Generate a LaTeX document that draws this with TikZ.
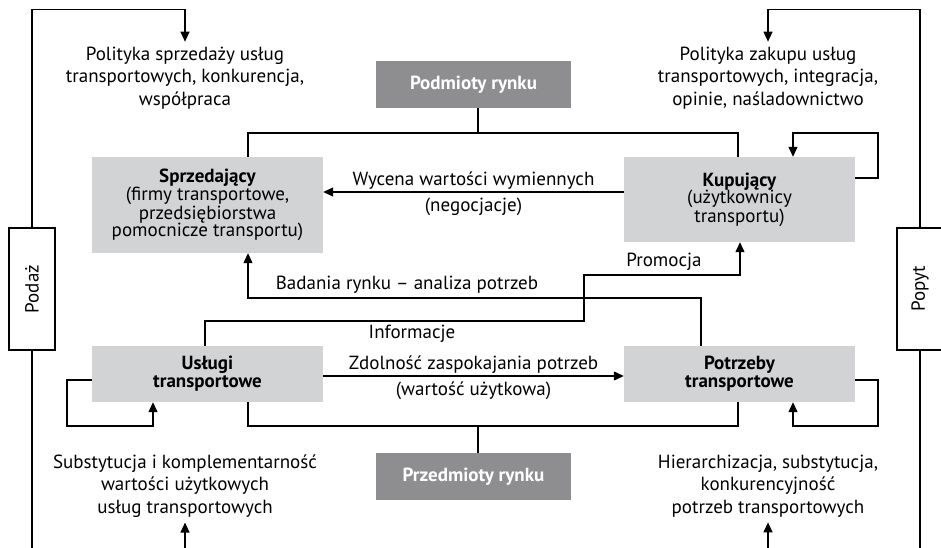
\documentclass[tikz,border=0pt]{standalone}
\usepackage{fontspec}
\usepackage{graphicx}
\setmainfont{PT Sans}
\usetikzlibrary{arrows.meta,positioning,calc}
\definecolor{lgrey}{HTML}{D2D3D5}
\definecolor{dgrey}{HTML}{8E8E90}
\tikzstyle{l1}=[line width=1.2pt]
\tikzstyle{arr}=[l1, -{Triangle[length=10pt,width=9pt]}]
\tikzstyle{light}=[fill=lgrey, minimum width=231pt, inner sep=0pt, align=center, font=\fontsize{19}{17.5}\selectfont]
\tikzstyle{lightb}=[light, font=\fontsize{19}{18}\selectfont\bfseries]
\tikzstyle{dark}=[fill=dgrey, text=white, minimum width=195pt, minimum height=47pt, font=\fontsize{19}{18}\selectfont\bfseries]
\tikzstyle{side}=[draw, l1, fill=white, minimum width=46pt, minimum height=122pt, inner sep=0pt, font=\fontsize{19}{18}\selectfont]
\tikzstyle{txt}=[align=center, inner sep=5pt, font=\fontsize{19}{22.5}\selectfont]
\tikzstyle{lbl}=[inner sep=2pt, font=\fontsize{19}{18}\selectfont]

\begin{document}
\begin{tikzpicture}[x=1pt, y=-1pt]
    \useasboundingbox (0,0) rectangle (941,548);

    % podmioty
    \node (podm) [dark] at (473.5,84.5) {Podmioty rynku};
    \node (sprz) [light, minimum height=96pt] at (207.5,205) {\textbf{Sprzedający}\\(firmy transportowe,\\przedsiębiorstwa\\pomocnicze transportu)};
    \node (kup) [light, minimum height=85pt] at (739.5,199.5) {\textbf{Kupujący}\\(użytkownicy\\transportu)};

    % przedmioty
    \node (prze) [dark] at (473.5,476.5) {Przedmioty rynku};
    \node (usl) [lightb, minimum height=56pt] at (207.5,374) {Usługi\\transportowe};
    \node (pot) [lightb, minimum height=56pt] at (739.5,374) {Potrzeby\\transportowe};

    \node (poda) [side] at (32,289) {\rotatebox{90}{Podaż}};
    \node (popy) [side] at (920,289) {\rotatebox{90}{Popyt}};

    \node (polS) [txt] at (185,78) {Polityka sprzedaży usług\\transportowych, konkurencja,\\współpraca};
    \node (polK) [txt] at (768,78) {Polityka zakupu usług\\transportowych, integracja,\\opinie, naśladownictwo};
    \node (subS) [txt] at (185,486) {Substytucja i komplementarność\\wartości użytkowych\\usług transportowych};
    \node (hier) [txt] at (768,486) {Hierarchizacja, substytucja,\\konkurencyjność\\potrzeb transportowych};

    \coordinate (bl) at (0,548);

    % outer loops
    \draw[arr] (poda.north) -- ++(0,-218) -| (polS.north);
    \draw[l1] (poda.south) -- (poda.south |- bl);
    \draw[arr] (subS.south |- bl) -- (subS.south);
    \draw[arr] (popy.north) -- ++(0,-218) -| (polK.north);
    \draw[l1] (popy.south) -- (popy.south |- bl);
    \draw[arr] (hier.south |- bl) -- (hier.south);

    % joins
    \draw[l1] (podm.south -| 478,0) -- (478,133);
    \draw[l1] (sprz.north -| 248,0) |- (738,133) -- (kup.north -| 738,0);
    \draw[l1] (prze.north -| 478,0) -- (478,426);
    \draw[l1] (usl.south -| 248,0) |- (738,426) -- (pot.south -| 738,0);

    % self loops
    \draw[arr] (kup.east |- 0,178) -| (878,133) -| (kup.north -| 793,0);
    \draw[arr] (usl.west |- 0,380) -| (67,426) -| (usl.south -| 153,0);
    \draw[arr] (pot.east |- 0,380) -| (878,426) -| (pot.south -| 793,0);

    % exchange
    \draw[arr] (kup.west |- 0,192) -- (sprz.east |- 0,192)
        node[lbl, midway, above] (wyc) {Wycena wartości wymiennych}
        node[lbl, midway, below=3pt] (neg) {(negocjacje)};
    \draw[arr] (usl.east |- 0,376) -- (pot.west |- 0,376)
        node[lbl, midway, above] (zdol) {Zdolność zaspokajania potrzeb}
        node[lbl, midway, below=3pt] (wart) {(wartość użytkowa)};

    \draw[arr] (pot.north -| 701,0) |- (248,298) -- (sprz.south -| 248,0);
    \node (bad) [lbl] at (407,285) {Badania rynku -- analiza potrzeb};

    \draw[arr] (usl.north -| 205,0) |- (584,321) |- (740,275) -- (kup.south -| 740,0);
    \node (prom) [lbl] at (664,262) {Promocja};
    \node (inf) [lbl] at (412,334) {Informacje};

\end{tikzpicture}
\end{document}
